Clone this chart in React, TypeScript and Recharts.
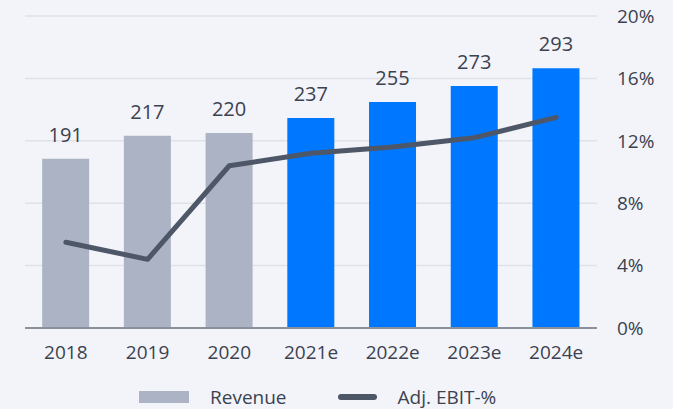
import React from 'react';
import { ComposedChart, Bar, Line, XAxis, YAxis, CartesianGrid, Legend, LabelList, Cell } from 'recharts';

const years = ['2018', '2019', '2020', '2021e', '2022e', '2023e', '2024e'];
const revenue = [191, 217, 220, 237, 255, 273, 293];
const ebitPct = [5.5, 4.4, 10.4, 11.2, 11.6, 12.2, 13.5];
const pctTicks = [0, 4, 8, 12, 16, 20];

const data = years.map((y, i) => ({ year: y, revenue: revenue[i], ebit: ebitPct[i] }));

const FONT = '"Open Sans", sans-serif';
const TEXT = '#3b4250';
const GRAY = '#acb3c4';
const BLUE = '#0077ff';
const LINE = '#4e5768';

const LegendContent = () => (
  <div style={{ display: 'flex', alignItems: 'center', fontFamily: FONT, fontSize: 19, lineHeight: '20px', color: TEXT, paddingLeft: 114, paddingTop: 18 }}>
    <span style={{ display: 'inline-block', width: 50, height: 12, background: GRAY, marginRight: 21 }} />
    <span style={{ marginRight: 51 }}>Revenue</span>
    <span style={{ display: 'inline-block', width: 39, height: 6, borderRadius: 3, background: LINE, marginRight: 21 }} />
    <span>Adj. EBIT-%</span>
  </div>
);

const App: React.FC = () => {
  return (
    <div style={{ position: 'absolute', left: 0, top: 0, width: 673, height: 409, background: '#f3f4f9' }}>
      <ComposedChart width={673} height={409} data={data} margin={{ top: 16, right: 0, left: 25, bottom: 0 }} barCategoryGap="21%">
        <CartesianGrid yAxisId="pct" vertical={false} stroke="#dfe1e8" strokeWidth={1.5} />
        <XAxis
          dataKey="year"
          height={41}
          tickSize={0}
          tickMargin={18}
          axisLine={{ stroke: '#8b919b', strokeWidth: 2 }}
          tickLine={false}
          tick={{ fill: TEXT, fontSize: 19, fontFamily: FONT }}
        />
        <YAxis yAxisId="rev" hide domain={[0, 352]} />
        <YAxis
          yAxisId="pct"
          orientation="right"
          width={76}
          domain={[0, 20]}
          ticks={pctTicks}
          tickFormatter={(v: number) => `${v}%`}
          axisLine={false}
          tickLine={false}
          tickSize={0}
          tickMargin={20}
          tick={{ fill: TEXT, fontSize: 19, fontFamily: FONT, textAnchor: 'start' }}
        />
        <Legend verticalAlign="bottom" height={40} content={<LegendContent />} />
        <Bar yAxisId="rev" dataKey="revenue" name="Revenue" isAnimationActive={false}>
          {data.map((d, i) => (
            <Cell key={d.year} fill={i < 3 ? GRAY : BLUE} />
          ))}
          <LabelList dataKey="revenue" position="top" offset={17} fill={TEXT} fontSize={20} fontFamily={FONT} />
        </Bar>
        <Line
          yAxisId="pct"
          type="linear"
          dataKey="ebit"
          name="Adj. EBIT-%"
          stroke={LINE}
          strokeWidth={5}
          strokeLinecap="round"
          strokeLinejoin="round"
          dot={false}
          activeDot={false}
          isAnimationActive={false}
        />
      </ComposedChart>
    </div>
  );
};

export default App;
